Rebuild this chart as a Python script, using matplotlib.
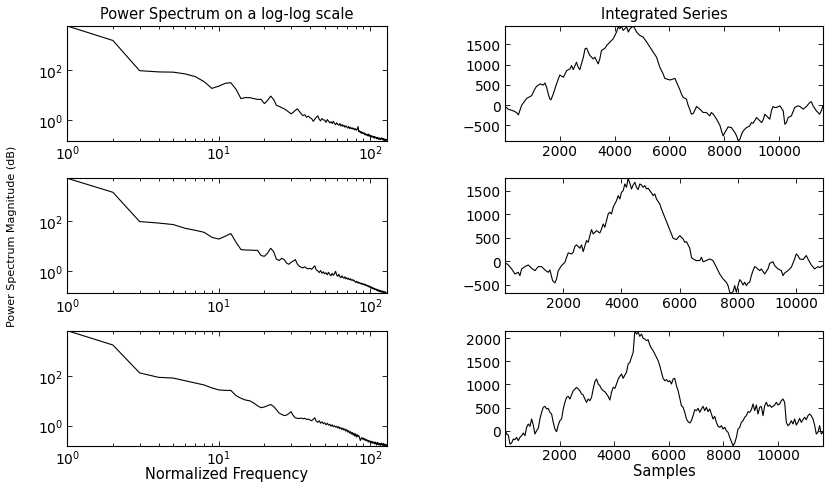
import numpy as np
import matplotlib.pyplot as plt
from matplotlib.ticker import FixedLocator, NullLocator, MultipleLocator

plt.rcParams['font.family'] = ['DejaVu Sans']
plt.rcParams['font.size'] = 10

# frequency bins of the spectra
freq = np.arange(1, 129)

# log10 of the power spectrum (one value per bin)
psd1_log10 = [3.76, 3.18, 1.97, 1.92, 1.91, 1.84, 1.73, 1.53, 1.26, 1.35,
              1.46, 1.49, 1.22, 0.85, 0.89, 0.89, 0.85, 0.82, 0.82, 0.65,
              0.78, 0.95, 0.82, 0.58, 0.54, 0.49, 0.44, 0.38, 0.31, 0.24,
              0.30, 0.38, 0.44, 0.34, 0.24, 0.17, 0.20, 0.10, 0.15, 0.08,
              0.05, -0.06, 0.02, 0.10, 0.16, 0.02, -0.04, 0.05, 0.00, -0.02,
              -0.10, 0.01, -0.05, -0.12, -0.08, -0.15, -0.06, -0.14, -0.20, -0.12,
              -0.18, -0.22, -0.15, -0.25, -0.19, -0.26, -0.22, -0.30, -0.24, -0.28,
              -0.33, -0.27, -0.35, -0.30, -0.36, -0.32, -0.38, -0.34, -0.40, -0.36,
              -0.42, -0.38, -0.27, -0.48, -0.44, -0.52, -0.47, -0.55, -0.50, -0.56,
              -0.52, -0.60, -0.55, -0.62, -0.58, -0.64, -0.57, -0.66, -0.60, -0.67,
              -0.63, -0.70, -0.65, -0.68, -0.72, -0.66, -0.74, -0.69, -0.71, -0.76,
              -0.70, -0.73, -0.78, -0.72, -0.75, -0.80, -0.74, -0.77, -0.72, -0.79,
              -0.76, -0.82, -0.75, -0.80, -0.85, -0.78, -0.83, -0.79]

psd2_log10 = [3.72, 3.16, 1.99, 1.93, 1.87, 1.72, 1.64, 1.56, 1.36, 1.29,
              1.40, 1.51, 1.16, 0.87, 0.85, 0.85, 0.84, 0.84, 0.63, 0.60,
              0.73, 0.92, 0.79, 0.49, 0.43, 0.52, 0.47, 0.33, 0.28, 0.36,
              0.41, 0.47, 0.29, 0.20, 0.16, 0.14, 0.18, 0.12, 0.10, 0.12,
              0.08, 0.15, 0.22, 0.05, 0.02, -0.05, 0.03, -0.08, -0.02, -0.10,
              -0.06, -0.14, -0.04, -0.12, -0.18, -0.08, -0.16, -0.10, 0.00, -0.15,
              -0.20, -0.12, -0.22, -0.26, -0.18, -0.24, -0.28, -0.22, -0.30, -0.26,
              -0.32, -0.28, -0.34, -0.30, -0.36, -0.33, -0.38, -0.35, -0.40, -0.44,
              -0.40, -0.46, -0.42, -0.48, -0.45, -0.50, -0.47, -0.52, -0.49, -0.54,
              -0.50, -0.56, -0.52, -0.58, -0.55, -0.60, -0.57, -0.63, -0.59, -0.65,
              -0.62, -0.68, -0.64, -0.70, -0.67, -0.72, -0.69, -0.74, -0.70, -0.76,
              -0.73, -0.78, -0.74, -0.80, -0.76, -0.82, -0.77, -0.80, -0.84, -0.78,
              -0.82, -0.86, -0.80, -0.84, -0.88, -0.82, -0.86, -0.88]

psd3_log10 = [3.85, 3.27, 2.14, 1.96, 1.93, 1.82, 1.73, 1.65, 1.53, 1.45,
              1.43, 1.43, 1.22, 1.11, 1.04, 1.01, 0.92, 0.81, 0.73, 0.76,
              0.81, 0.86, 0.78, 0.65, 0.51, 0.46, 0.41, 0.43, 0.49, 0.57,
              0.41, 0.32, 0.30, 0.29, 0.31, 0.28, 0.30, 0.25, 0.27, 0.23,
              0.20, 0.26, 0.32, 0.18, 0.14, 0.20, 0.10, 0.16, 0.08, 0.12,
              0.04, 0.10, 0.02, 0.06, -0.02, 0.04, -0.04, 0.00, -0.06, -0.02,
              -0.10, -0.04, -0.12, -0.08, -0.16, -0.10, -0.18, -0.13, -0.22, -0.16,
              -0.26, -0.20, -0.30, -0.24, -0.34, -0.27, -0.38, -0.30, -0.42, -0.33,
              -0.46, -0.36, -0.44, -0.40, -0.50, -0.60, -0.52, -0.48, -0.55, -0.50,
              -0.58, -0.52, -0.60, -0.56, -0.62, -0.58, -0.66, -0.60, -0.64, -0.68,
              -0.62, -0.70, -0.64, -0.72, -0.66, -0.68, -0.74, -0.66, -0.72, -0.78,
              -0.68, -0.75, -0.70, -0.78, -0.72, -0.76, -0.80, -0.70, -0.76, -0.74,
              -0.80, -0.72, -0.78, -0.81, -0.74, -0.79, -0.76, -0.80]

# integrated series
int1_x = [0, 120, 300, 420, 490, 610, 790, 970, 1090, 1150, 1280, 1400, 1460, 1520, 1580,
          1640, 1680, 1760, 1880, 2000, 2130, 2250, 2370, 2430, 2490, 2610, 2670, 2730, 2860,
          2920, 2980, 3040, 3100, 3220, 3280, 3400, 3460, 3520, 3650, 3710, 3830, 3890, 3950,
          4070, 4130, 4190, 4250, 4310, 4440, 4500, 4560, 4680, 4740, 4800, 4920, 5040, 5170,
          5290, 5410, 5530, 5590, 5650, 5770, 5830, 5890, 6020, 6140, 6200, 6260, 6380, 6440,
          6500, 6620, 6680, 6740, 6800, 6870, 6990, 7110, 7230, 7350, 7470, 7530, 7600, 7720,
          7840, 7900, 7960, 8020, 8140, 8260, 8390, 8450, 8510, 8570, 8630, 8690, 8810, 8930,
          8990, 9050, 9180, 9240, 9300, 9360, 9420, 9480, 9540, 9660, 9720, 9780, 9840, 9900,
          10030, 10150, 10210, 10270, 10330, 10450, 10570, 10690, 10760, 10880, 11000, 11120,
          11180, 11240, 11360, 11480, 11540, 11600]
int1_y = [-33, -99, -141, -182, -240, 0, 166, 232, 398, 464, 522, 497, 547, 439, 273,
          149, 133, 273, 522, 746, 688, 854, 895, 978, 878, 1061, 936, 878, 1185,
          1392, 1408, 1309, 1226, 1143, 1185, 1019, 1143, 1350, 1409, 1475, 1558, 1600, 1641,
          1807, 1931, 1890, 1956, 1848, 1931, 1807, 1890, 1956, 1890, 1807, 1724, 1683, 1558,
          1434, 1309, 1185, 1061, 937, 771, 663, 647, 622, 647, 663, 564, 381, 273,
          191, 149, 0, -99, -224, -207, -33, -99, -182, -182, -265, -182, -224, -348,
          -497, -638, -762, -680, -539, -555, -680, -762, -887, -845, -721, -638, -555, -514,
          -431, -448, -307, -348, -390, -431, -365, -224, -265, -348, -141, -33, -58, -58,
          -17, -141, -472, -431, -307, -265, -58, -17, -33, -99, -33, 66,
          83, -17, -141, -224, -141, -17]

int2_x = [0, 57, 114, 229, 343, 457, 514, 572, 686, 800, 914, 1029, 1143, 1257, 1372, 1486,
          1543, 1634, 1715, 1772, 1829, 1943, 2057, 2115, 2172, 2286, 2343, 2400, 2457, 2572,
          2629, 2686, 2743, 2800, 2858, 2915, 2972, 3029, 3143, 3258, 3315, 3372, 3429, 3486,
          3543, 3600, 3658, 3715, 3829, 3886, 3943, 4001, 4058, 4115, 4172, 4229, 4286, 4343,
          4401, 4458, 4515, 4572, 4629, 4686, 4744, 4801, 4858, 4915, 4972, 5029, 5086, 5144,
          5201, 5258, 5315, 5372, 5486, 5601, 5715, 5772, 5886, 6001, 6115, 6172, 6229, 6344,
          6401, 6458, 6572, 6687, 6744, 6801, 6915, 7029, 7144, 7258, 7372, 7487, 7601, 7658,
          7715, 7772, 7830, 7887, 7944, 8001, 8058, 8115, 8172, 8230, 8287, 8344, 8401, 8458,
          8515, 8573, 8630, 8744, 8801, 8915, 9030, 9087, 9201, 9258, 9373, 9487, 9544, 9601,
          9716, 9830, 9944, 10001, 10058, 10116, 10230, 10344, 10401, 10516, 10630, 10744,
          10801, 10916]
int2_y = [-35, -49, -76, -161, -267, -232, -303, -161, -111, -76, -147, -197, -111, -111, -182, -232,
          -182, -408, -458, -373, -197, -90, -19, 87, 179, 158, 193, 320, 349, 278,
          349, 207, 320, 440, 405, 546, 673, 581, 652, 602, 687, 793, 723, 864,
          1005, 1041, 1005, 1147, 1288, 1394, 1323, 1465, 1500, 1641, 1571, 1761, 1662, 1535,
          1620, 1677, 1571, 1521, 1641, 1620, 1571, 1606, 1535, 1550, 1500, 1451, 1394, 1430,
          1323, 1267, 1217, 1111, 935, 758, 581, 490, 461, 546, 475, 405, 419, 278,
          87, 52, 17, 17, 87, -8, 17, 52, 17, -126, -267, -373, -444, -514,
          -655, -677, -641, -514, -655, -514, -387, -429, -500, -444, -514, -458, -444, -303,
          -197, -111, -133, -197, -160, -267, -160, -41, -8, -90, -160, -197, -303, -246,
          -197, -126, 52, 158, 123, 52, 38, 123, 52, -76, -160, -111,
          -133, -90]

int3_y = [36, -72, -94, -288, -266, -180, -194, -144, -216, -144,
          -108, -50, -108, 72, 144, 94, 252, 122, -72, 0,
          50, 252, 396, 504, 525, 468, 482, 396, 360, 180,
          36, -22, 122, 216, 252, 468, 612, 719, 741, 683,
          770, 863, 899, 935, 899, 863, 791, 770, 683, 612,
          683, 647, 719, 899, 1058, 1115, 1007, 971, 899, 863,
          842, 791, 741, 662, 827, 935, 914,
          1007, 1115, 1173, 1223, 1129, 1201, 1259, 1439, 1475, 1583,
          1691, 2158, 2086, 2122, 2036, 2086, 1993, 1978, 1942, 1964,
          1849, 1777, 1727, 1655, 1583, 1511, 1403, 1259, 1129, 1079,
          1101, 1058, 1079, 1007, 1115, 1129, 971, 863, 698, 540,
          504, 396, 252, 194, 165, 216, 324, 453, 432, 482,
          396, 468, 525, 432, 504, 410, 468, 360, 252, 309,
          180, 94, 72, 108, 36, 72, 0, -36, -144, -237,
          -324, -266, -144, 36, 72, 180, 216, 288, 324, 410,
          396, 453, 576, 432, 554, 360, 504, 525, 324, 540,
          612, 525, 554, 504, 525, 554, 612, 554, 576, 647,
          683, 612, 180, 108, 144, 216, 144, 252, 122, 180,
          266, 180, 237, 288, 237, 324, 360, 324, 252, 122,
          -72, -36, 108, -72, -30]
int3_x = np.arange(len(int3_y)) * 61  # sample positions

spectra = [psd1_log10, psd2_log10, psd3_log10]
series = [(int1_x, int1_y), (int2_x, int2_y), (int3_x, int3_y)]
sample_ticks = [2000, 4000, 6000, 8000, 10000]


def style_axes(ax):
    ax.tick_params(which='both', direction='in', top=True, right=True,
                   width=0.6, colors='black', labelsize=10)
    ax.tick_params(which='major', length=3.5, pad=3)
    ax.tick_params(which='minor', length=2)
    ax.tick_params(axis='x', which='major', pad=2)
    for sp in ax.spines.values():
        sp.set_linewidth(0.8)
        sp.set_color('black')


fig = plt.figure(figsize=(8.3, 4.85), dpi=100)
row_bottom = [0.7072, 0.3932, 0.0790]
row_h = 0.2371

for i in range(3):
    # left column: power spectrum on log-log axes
    ax = fig.add_axes([0.0811, row_bottom[i], 0.3846, row_h])
    p = 10 ** np.array(spectra[i])
    ax.loglog(freq, p, color='black', lw=0.8)
    ax.set_xlim(freq[0], freq[-1])
    ax.set_ylim(p.min(), p.max())
    ax.yaxis.set_major_locator(FixedLocator([1, 100]))
    ax.yaxis.set_minor_locator(NullLocator())
    style_axes(ax)
    if i == 0:
        ax.set_title('Power Spectrum on a log-log scale', fontsize=10.5, pad=6)
    if i == 1:
        ax.set_ylabel('Power Spectrum Magnitude (dB)', fontsize=8)
        ax.yaxis.label.set_va('center')
        ax.yaxis.set_label_coords(-0.173, 0.5)
    if i == 2:
        ax.set_xlabel('Normalized Frequency', fontsize=10.5)
        ax.xaxis.label.set_va('center')
        ax.xaxis.set_label_coords(0.5, -0.24)

    # right column: integrated series
    ax = fig.add_axes([0.6084, row_bottom[i], 0.3831, row_h])
    sx, sy = series[i]
    ax.plot(sx, sy, color='black', lw=0.8)
    ax.set_xlim(0, sx[-1])
    ax.set_ylim(min(sy), max(sy))
    ax.xaxis.set_major_locator(FixedLocator(sample_ticks))
    ax.yaxis.set_major_locator(MultipleLocator(500))
    style_axes(ax)
    if i == 0:
        ax.set_title('Integrated Series', fontsize=10.5, pad=6)
    if i == 2:
        ax.set_xlabel('Samples', fontsize=10.5)
        ax.xaxis.label.set_va('center')
        ax.xaxis.set_label_coords(0.5, -0.215)

fig.savefig('out.png', dpi=100)
